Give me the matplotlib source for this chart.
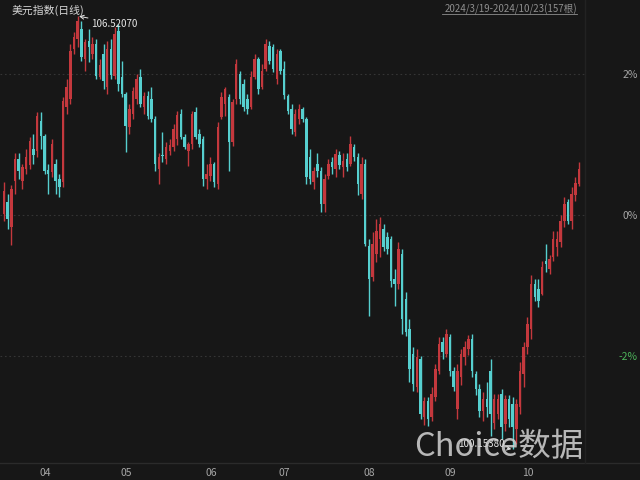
import numpy as np
import pandas as pd
import matplotlib
matplotlib.use("Agg")
import matplotlib.pyplot as plt
import matplotlib.transforms as mtransforms

plt.rcParams['font.family'] = ['Noto Sans CJK SC', 'DejaVu Sans']

# 美元指数 daily bars, 2024/3/19 - 2024/10/23 (157 weekdays)
dates = pd.bdate_range("2024-03-19", "2024-10-23")

opens = [
    103.61, 103.79, 103.42, 104.09, 104.42, 104.09, 104.27, 104.33, 104.57, 104.53,
    104.98, 104.76, 104.26, 104.23, 104.35, 104.12, 104.08, 105.18, 105.30, 106.04,
    106.18, 106.33, 105.89, 106.15, 105.96, 106.11, 105.62, 105.96, 105.48, 106.04,
    105.64, 106.30, 105.62, 105.37, 104.89, 105.08, 105.30, 105.62, 105.18, 105.34,
    105.30, 105.01, 104.27, 104.48, 104.42, 104.54, 104.59, 104.71, 105.08, 104.74,
    104.54, 104.64, 105.11, 104.79, 104.71, 104.12, 104.17, 104.35, 104.05, 105.04,
    105.23, 105.33, 104.67, 105.30, 105.67, 105.52, 105.30, 105.18, 105.62, 105.89,
    105.48, 105.74, 106.08, 106.06, 105.59, 106.01, 105.74, 105.34, 105.15, 104.81,
    105.01, 105.15, 105.01, 104.45, 104.08, 104.35, 104.24, 103.76, 104.17, 104.37,
    104.27, 104.48, 104.30, 104.42, 104.35, 104.59, 104.45, 103.91, 104.35, 103.14,
    102.68, 103.02, 103.24, 103.39, 103.27, 103.24, 102.65, 102.58, 103.02, 102.36,
    101.92, 101.55, 101.07, 101.48, 100.63, 100.86, 100.63, 100.92, 101.30, 101.73,
    101.55, 101.80, 101.30, 100.74, 101.21, 101.51, 101.63, 101.77, 101.26, 101.04,
    100.71, 100.89, 101.30, 100.54, 100.67, 100.96, 100.52, 100.89, 100.82, 100.45,
    100.77, 101.26, 101.65, 101.92, 102.58, 102.51, 102.43, 102.92, 102.80, 102.98,
    103.12, 103.20, 103.51, 103.79, 103.51, 103.89, 104.05,
]
highs = [
    104.08, 103.91, 104.03, 104.50, 104.50, 104.35, 104.57, 104.74, 104.79, 105.11,
    105.11, 104.79, 104.35, 104.71, 104.42, 104.20, 105.33, 105.59, 106.11, 106.29,
    106.52, 106.45, 106.18, 106.33, 106.21, 106.18, 105.89, 106.11, 106.15, 106.18,
    106.36, 106.40, 105.86, 105.40, 105.23, 105.48, 105.67, 105.74, 105.40, 105.42,
    105.48, 105.05, 104.50, 104.81, 104.67, 104.71, 104.93, 105.12, 105.15, 104.79,
    104.67, 105.12, 105.18, 104.86, 104.76, 104.35, 104.45, 104.37, 104.96, 105.40,
    105.48, 105.37, 105.30, 105.89, 105.71, 105.59, 105.37, 105.71, 105.96, 105.92,
    105.81, 106.18, 106.15, 106.11, 106.04, 106.04, 105.86, 105.37, 105.23, 105.15,
    105.23, 105.18, 105.04, 104.57, 104.30, 104.50, 104.30, 104.20, 104.42, 104.45,
    104.57, 104.54, 104.50, 104.50, 104.76, 104.64, 104.50, 104.45, 104.42, 103.24,
    103.35, 103.54, 103.57, 103.46, 103.35, 103.29, 102.80, 103.20, 103.10, 102.46,
    102.07, 101.66, 101.63, 101.52, 100.92, 100.92, 101.07, 101.40, 101.80, 101.80,
    101.92, 101.85, 101.36, 101.40, 101.63, 101.74, 101.83, 101.85, 101.30, 101.11,
    100.99, 101.14, 101.48, 100.96, 100.96, 101.04, 100.95, 100.95, 100.92, 100.89,
    101.43, 101.73, 102.10, 102.71, 102.65, 102.65, 102.92, 103.17, 103.01, 103.36,
    103.36, 103.60, 103.86, 103.83, 104.01, 104.15, 104.37,
]
lows = [
    103.51, 103.39, 103.15, 103.91, 104.12, 103.98, 104.20, 104.27, 104.35, 104.45,
    104.57, 104.20, 103.91, 104.15, 103.91, 103.86, 104.01, 105.08, 105.23, 105.96,
    106.06, 105.86, 105.71, 105.84, 105.89, 105.59, 105.59, 105.45, 105.37, 105.59,
    105.59, 105.42, 105.33, 104.52, 104.79, 105.01, 105.23, 105.18, 105.08, 105.01,
    104.96, 104.24, 104.05, 104.37, 104.35, 104.48, 104.54, 104.62, 104.71, 104.57,
    104.32, 104.57, 104.71, 104.59, 104.02, 103.98, 104.09, 104.01, 103.98, 105.01,
    105.05, 104.24, 104.61, 105.23, 105.23, 105.12, 105.08, 105.15, 105.59, 105.37,
    105.45, 105.71, 105.81, 105.70, 105.52, 105.67, 105.30, 105.08, 104.79, 104.76,
    104.93, 104.96, 104.05, 104.05, 103.98, 104.15, 103.64, 103.64, 104.12, 104.20,
    104.15, 104.27, 104.15, 104.24, 104.32, 104.39, 103.89, 103.83, 103.14, 102.11,
    102.62, 102.90, 102.98, 103.07, 103.02, 102.54, 102.26, 102.51, 101.85, 101.82,
    101.14, 101.01, 100.99, 100.60, 100.51, 100.49, 100.57, 100.86, 101.26, 101.48,
    101.51, 101.23, 101.01, 100.60, 101.10, 101.39, 101.54, 101.21, 100.95, 100.63,
    100.57, 100.63, 100.35, 100.45, 100.60, 100.30, 100.42, 100.48, 100.15, 100.23,
    100.67, 101.07, 101.55, 101.77, 102.33, 102.24, 102.42, 102.76, 102.73, 102.92,
    102.99, 103.12, 103.42, 103.46, 103.39, 103.80, 104.02,
]
closes = [
    103.95, 103.54, 103.97, 104.42, 104.24, 104.30, 104.45, 104.68, 104.48, 105.05,
    104.76, 104.24, 104.20, 104.64, 104.09, 104.01, 105.27, 105.48, 106.01, 106.21,
    106.45, 105.92, 106.14, 106.06, 106.11, 105.64, 105.80, 105.56, 106.04, 105.65,
    106.26, 105.52, 105.37, 104.90, 105.15, 105.42, 105.59, 105.23, 105.34, 105.05,
    105.01, 104.35, 104.45, 104.46, 104.59, 104.62, 104.86, 105.06, 104.74, 104.59,
    104.64, 105.08, 104.74, 104.64, 104.12, 104.20, 104.35, 104.08, 104.89, 105.33,
    105.45, 104.67, 105.26, 105.81, 105.30, 105.18, 105.15, 105.62, 105.89, 105.45,
    105.71, 106.11, 105.86, 105.74, 105.96, 105.71, 105.36, 105.12, 104.86, 105.08,
    105.15, 105.01, 104.15, 104.12, 104.24, 104.24, 103.76, 104.12, 104.35, 104.30,
    104.49, 104.33, 104.39, 104.30, 104.64, 104.45, 104.05, 104.35, 103.17, 102.65,
    103.17, 103.36, 103.46, 103.12, 103.10, 102.62, 102.58, 103.10, 102.07, 101.88,
    101.33, 101.11, 101.51, 100.67, 100.86, 100.60, 100.96, 101.33, 101.70, 101.58,
    101.85, 101.30, 101.07, 101.30, 101.55, 101.65, 101.77, 101.30, 101.04, 100.71,
    100.89, 100.77, 100.67, 100.89, 100.89, 100.48, 100.89, 100.60, 100.48, 100.82,
    101.30, 101.65, 101.99, 102.58, 102.39, 102.33, 102.83, 102.88, 102.95, 103.24,
    103.24, 103.51, 103.76, 103.51, 103.91, 104.07, 104.27,
]

base_price = 103.6          # 0% reference
pct_levels = [2, 0, -2]
high_label = "106.52070"
low_label = "100.15380"

BG = "#171717"
UP = "#c4383d"
DOWN = "#56cfcf"
GRID = "#353535"
TXT = "#a6a6a6"

W, H = 640, 481
fig = plt.figure(figsize=(W / 100, H / 100), dpi=100, facecolor=BG)
ax = fig.add_axes([0, 17 / H, 585 / W, 464 / H], facecolor=BG)

o = np.array(opens)
hi = np.array(highs)
lo = np.array(lows)
c = np.array(closes)
x = np.arange(len(c))
up = c >= o
cols = np.where(up, UP, DOWN)

for lvl in pct_levels:
    ax.axhline(base_price * (1 + lvl / 100), color=GRID, lw=0.8,
               ls=(0, (1.5, 2.5)), zorder=0)

ax.vlines(x, lo, hi, colors=cols, lw=1.0, zorder=2)
body_h = np.maximum(np.abs(c - o), 0.012)
ax.bar(x, body_h, bottom=np.minimum(o, c), width=0.68, color=cols,
       linewidth=0, zorder=3)

ax.set_xlim(-4 / 3.686, 581 / 3.686)
ax.set_ylim(99.95, 106.77)
ax.axis("off")

# extremes
i_hi = int(np.argmax(hi))
i_lo = int(np.argmin(lo))
ax.annotate(high_label, xy=(i_hi, hi[i_hi]), xytext=(13, -7),
            textcoords="offset pixels", color="#e6e6e6", fontsize=7,
            ha="left", va="center",
            arrowprops=dict(arrowstyle="->", color="#e6e6e6", lw=0.7,
                            shrinkA=0, shrinkB=1))
ax.annotate(low_label, xy=(i_lo, lo[i_lo]), xytext=(-8, 6),
            textcoords="offset pixels", color="#e6e6e6", fontsize=7,
            ha="right", va="center", zorder=11,
            arrowprops=dict(arrowstyle="->", color="#e6e6e6", lw=0.7,
                            shrinkA=0, shrinkB=1))

# right-hand percent scale
tr = mtransforms.blended_transform_factory(fig.transFigure, ax.transData)
for lvl in pct_levels:
    col = "#4cb35a" if lvl < 0 else TXT
    fig.text(638 / W, base_price * (1 + lvl / 100), f"{lvl}%", transform=tr,
             ha="right", va="center", fontsize=7.5, color=col)

# month labels at first bar of each month
month_start = pd.Series(x, index=dates).groupby(dates.to_period("M")).first()
for per, i in month_start.items():
    if i == 0:
        continue
    xf = (4 + 3.686 * i + 2) / W
    fig.text(xf, 8 / H, f"{per.month:02d}", ha="left", va="center",
             fontsize=7.5, color=TXT)

# frame lines
fig.add_artist(plt.Line2D([0, 1], [17 / H, 17 / H], color="#2b2b2b", lw=1))
fig.add_artist(plt.Line2D([585 / W, 585 / W], [17 / H, 1], color="#222222", lw=1))

fig.text(12 / W, 1 - 10 / H, "美元指数(日线)", ha="left", va="center",
         fontsize=7.8, color="#d6d6d6")
fig.text(577 / W, 1 - 9 / H, "2024/3/19-2024/10/23(157根)", ha="right",
         va="center", fontsize=7, color="#8e8e8e")
fig.add_artist(plt.Line2D([442 / W, 577 / W], [1 - 15 / H, 1 - 15 / H],
                          color="#8e8e8e", lw=0.6))

fig.text(414 / W, 25 / H, "Choice数据", ha="left", va="baseline",
         fontsize=23.5, color="#d4d4d4", alpha=0.85, zorder=10)

fig.savefig("out.png", dpi=100, facecolor=BG)
